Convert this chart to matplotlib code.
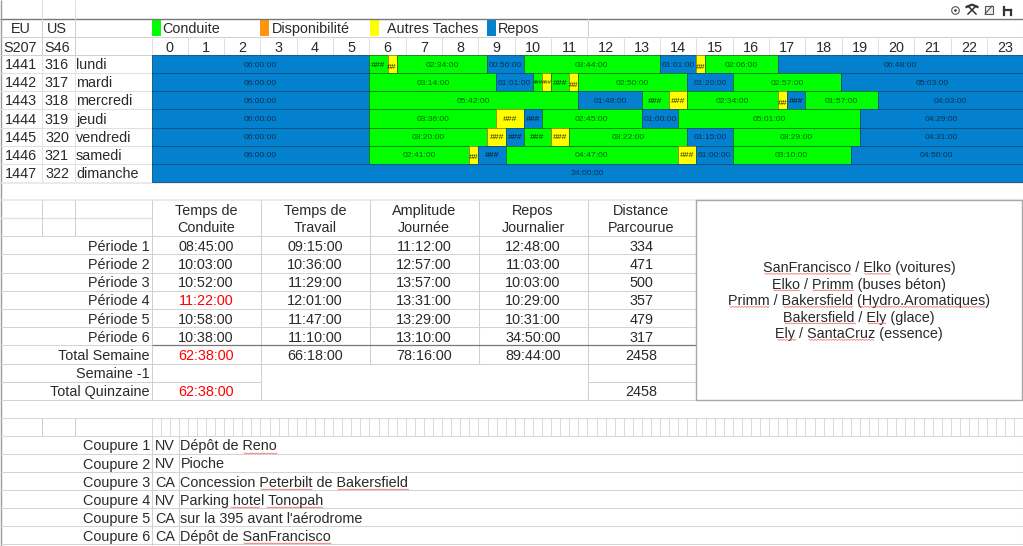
#! /usr/bin/env python

import numpy as np
import matplotlib
matplotlib.use('Agg')
import matplotlib.pyplot as plt
from matplotlib.patches import Circle, Rectangle

plt.rcParams['font.family'] = ['Liberation Sans', 'DejaVu Sans']

eu = ['1441', '1442', '1443', '1444', '1445', '1446', '1447']
us = ['316', '317', '318', '319', '320', '321', '322']
days = ['lundi', 'mardi', 'mercredi', 'jeudi', 'vendredi', 'samedi', 'dimanche']

# widths in hours as drawn (sheet snaps to quarter hours), C conduite, A autres, R repos
lundi = [(6, 'R', '06:00:00'), (.5, 'C', '###'), (.25, 'A', '##'), (2.5, 'C', '02:34:00'),
         (1, 'R', '00:56:00'), (3.75, 'C', '03:44:00'), (1, 'R', '01:01:00'), (.25, 'A', '##'),
         (2, 'C', '02:06:00'), (6.75, 'R', '06:48:00')]
mardi = [(6, 'R', '06:00:00'), (3.5, 'C', '03:14:00'), (1, 'R', '01:01:00'), (.25, 'C', '###'),
         (.25, 'A', '###'), (.5, 'C', '###'), (.25, 'A', '##'), (3, 'C', '02:50:00'),
         (1.25, 'R', '01:20:00'), (3, 'C', '02:57:00'), (5, 'R', '05:03:00')]
mercredi = [(6, 'R', '06:00:00'), (5.75, 'C', '05:42:00'), (1.75, 'R', '01:48:00'), (.75, 'C', '###'),
            (.5, 'A', '###'), (2.5, 'C', '02:34:00'), (.25, 'A', '##'), (.5, 'R', '###'),
            (2, 'C', '01:57:00'), (4, 'R', '04:03:00')]
jeudi = [(6, 'R', '06:00:00'), (3.5, 'C', '03:36:00'), (.75, 'A', '###'), (.5, 'R', '###'),
         (2.75, 'C', '02:45:00'), (1, 'R', '01:00:00'), (5, 'C', '05:01:00'), (4.5, 'R', '04:29:00')]
vendredi = [(6, 'R', '06:00:00'), (3.25, 'C', '03:20:00'), (.5, 'A', '###'), (.5, 'R', '###'),
            (.75, 'C', '###'), (.5, 'A', '###'), (3.25, 'C', '03:22:00'), (1.25, 'R', '01:15:00'),
            (3.5, 'C', '03:29:00'), (4.5, 'R', '04:31:00')]
samedi = [(6, 'R', '06:00:00'), (2.75, 'C', '02:41:00'), (.25, 'A', '##'), (.75, 'R', '###'),
          (4.75, 'C', '04:47:00'), (.5, 'A', '###'), (1, 'R', '01:00:00'), (3.25, 'C', '03:10:00'),
          (4.75, 'R', '04:50:00')]
dimanche = [(24, 'R', '24:00:00')]
week = [lundi, mardi, mercredi, jeudi, vendredi, samedi, dimanche]

periods = ['Période 1', 'Période 2', 'Période 3', 'Période 4', 'Période 5', 'Période 6']
conduite = ['08:45:00', '10:03:00', '10:52:00', '11:22:00', '10:58:00', '10:38:00']
travail = ['09:15:00', '10:36:00', '11:29:00', '12:01:00', '11:47:00', '11:10:00']
amplitude = ['11:12:00', '12:57:00', '13:57:00', '13:31:00', '13:29:00', '13:10:00']
repos = ['12:48:00', '11:03:00', '10:03:00', '10:29:00', '10:31:00', '34:50:00']
distance = ['334', '471', '500', '357', '479', '317']
totals = ['62:38:00', '66:18:00', '78:16:00', '89:44:00', '2458']

trips = ['SanFrancisco / Elko (voitures)', 'Elko / Primm (buses béton)',
         'Primm / Bakersfield (Hydro.Aromatiques)', 'Bakersfield / Ely (glace)',
         'Ely / SantaCruz (essence)']
states = ['NV', 'NV', 'CA', 'NV', 'CA', 'CA']
places = ['Dépôt de Reno', 'Pioche', 'Concession Peterbilt de Bakersfield', 'Parking hotel Tonopah',
          "sur la 395 avant l'aérodrome", 'Dépôt de SanFrancisco']

colors = {'C': '#00ff00', 'A': '#ffff00', 'R': '#0481ce'}
edges = {'C': '#0b7a0b', 'A': '#a08a00', 'R': '#064f80'}
TXT = '#2a2a2a'
GRID = '#d0d0d0'
FS = 10.35

fig = plt.figure(figsize=(10.23, 5.46), dpi=100)
bg = fig.add_axes([0, 0, 1, 1])
bg.set_xlim(0, 1023)
bg.set_ylim(546, 0)
bg.axis('off')


def hl(y, x0, x1, c=GRID, lw=.75):
    bg.plot([x0, x1], [y, y], color=c, lw=lw, solid_capstyle='butt')


def vl(x, y0, y1, c=GRID, lw=.75):
    bg.plot([x, x], [y0, y1], color=c, lw=lw, solid_capstyle='butt')


def txt(x, y, s, ha='center', c=TXT, fs=FS):
    bg.text(x, y, s, ha=ha, va='baseline', color=c, fontsize=fs)


def squiggle(x0, x1, y, z=2):
    xs = np.arange(x0, x1 + .1, 1.5)
    ys = y + .8 * (np.arange(len(xs)) % 2)
    bg.plot(xs, ys, color='#e8484a', lw=.55, alpha=.8, zorder=z)


# top grid
hl(18.5, 0, 1023, '#777777', 1.0)
for x in [41.5, 74.5]:
    vl(x, 0, 18, '#dddddd')
    vl(x, 18, 55)
vl(1, 0, 546, '#9a9a9a', 1.0)
vl(1022.5, 18, 546, '#d8d8d8')
hl(36.5, 0, 1023)
hl(54.7, 0, 151.5)
vl(41.5, 55, 182, '#e2e2e2')
vl(74.5, 55, 182, '#e2e2e2')
for i in range(1, 7):
    hl(55 + i * 18.14, 0, 151.5, '#e0e0e0')
hl(182.5, 0, 1023, '#e4e4e4', 1.1)
hl(199.5, 0, 1023, '#e4e4e4', 1.1)
vl(587.5, 18, 36)
for h in range(25):
    vl(151.5 + h * 36.33, 36.5, 55, '#e0e0e0')
hl(54.7, 151.5, 1023, '#e0e0e0')

# legend row
txt(20.5, 33, 'EU')
txt(57, 33, 'US')
txt(20.5, 51.5, 'S207')
txt(57, 51.5, 'S46')
for x0, c, x, s in [(151.5, '#00ff00', 162, 'Conduite'), (260, '#ff950e', 271.5, 'Disponibilité'),
                    (369.5, '#ffff00', 387, 'Autres Taches'), (487, '#0481ce', 498, 'Repos')]:
    bg.add_patch(Rectangle((x0, 18.8), 9.3, 17.5, color=c, lw=0))
    txt(x, 33, s, ha='left')
for h in range(24):
    txt(151.5 + (h + .5) * 36.33, 51.5, str(h))
for i in range(7):
    y = 55 + (i + 1) * 18.14 - 4
    txt(20.5, y, eu[i])
    txt(57, y, us[i])
    txt(76, y, days[i], ha='left')

# timeline
ax = fig.add_axes([151.5 / 1023, 1 - 182 / 546, 871.5 / 1023, 127 / 546])
ax.set_xlim(0, 24)
ax.set_ylim(7, 0)
ax.axis('off')
for row, segs in enumerate(week):
    start = 0
    for width, kind, label in segs:
        ax.broken_barh([(start, width)], (row, 1), facecolors=colors[kind], edgecolors=edges[kind], lw=.6)
        hashes = label.startswith('#')
        yl = row + .5
        fs = 6.1
        if label == '##' and width == .25:
            yl = row + .62
        if label == '###' and width == .25:
            fs = 4.2
        ax.text(start + width / 2, yl, label, ha='center', va='center_baseline',
                fontsize=fs, style='italic' if hashes else 'normal',
                color='black', alpha=.85 if hashes else .6, clip_on=True)
        start += width

# summary table
rows_y = [236, 254.4, 272.6, 290.8, 309, 327.2, 345.3, 363.5, 381.5, 399.5]
cols_x = [151.5, 260.5, 369.5, 478.5, 587.5, 696]
centers = [206, 315, 424, 533, 641.5]
hl(217.5, 0, 151.5, '#e2e2e2', 1.0)
vl(41.5, 200, 236)
vl(74.5, 200, 236)
for x in cols_x:
    vl(x, 200, 363.5)
for y in rows_y[:6]:
    hl(y, 0, 696, '#d4d4d4')
hl(rows_y[6], 0, 151.5, '#d4d4d4')
hl(rows_y[6], 151.5, 696, '#777777', .9)
hl(rows_y[7], 0, 696)
hl(rows_y[8], 0, 260.5)
hl(rows_y[8], 587.5, 696)
hl(rows_y[9], 0, 1023, '#d4d4d4')
vl(151.5, 363.5, 399.5)
vl(260.5, 363.5, 399.5)
vl(587.5, 363.5, 399.5)
bg.add_patch(Rectangle((696, 200), 326, 199.5, fc='white', ec='#a8a8a8', lw=1.0, zorder=3))

heads = [('Temps de', 'Conduite'), ('Temps de', 'Travail'), ('Amplitude', 'Journée'),
         ('Repos', 'Journalier'), ('Distance', 'Parcourue')]
for cx, (a, b) in zip(centers, heads):
    txt(cx, 215.3, a)
    txt(cx, 232, b)
for i, name in enumerate(periods):
    y = rows_y[i + 1] - 3.6
    txt(150, y, name, ha='right')
    txt(centers[0], y, conduite[i], c='#ff0000' if i == 3 else TXT)
    txt(centers[1], y, travail[i])
    txt(centers[2], y, amplitude[i])
    txt(centers[3], y, repos[i])
    txt(centers[4], y, distance[i])
txt(150, 359.8, 'Total Semaine', ha='right')
txt(centers[0], 359.8, totals[0], c='#ff0000')
for cx, v in zip(centers[1:], totals[1:]):
    txt(cx, 359.8, v)
txt(150, 377.8, 'Semaine -1', ha='right')
txt(150, 395.8, 'Total Quinzaine', ha='right')
txt(centers[0], 395.8, totals[0], c='#ff0000')
txt(centers[4], 395.8, totals[4])

for i, s in enumerate(trips):
    bg.text(859, 272 + i * 16.6, s, ha='center', va='baseline', color=TXT, fontsize=FS, zorder=4)
for x0, x1, y in [(765, 851, 273.5), (865, 891, 273.5), (774, 800, 290), (813, 854, 290),
                  (730, 770, 306.5), (784, 854, 306.5), (859, 985, 306.5), (785, 856, 323),
                  (868, 887, 323), (778, 797, 339.5), (809, 874, 339.5)]:
    squiggle(x0, x1, y, z=4)

# coupures
hl(417.5, 0, 1023, '#d8d8d8')
hl(435.5, 0, 1023, '#d8d8d8')
vl(41.5, 417.5, 435.5)
vl(74.5, 417.5, 435.5)
for x in np.arange(151.5, 1023, 36.33 / 4):
    vl(x, 417.5, 435.5, '#d9d9d9', .7)
for i in range(6):
    y = 435.5 + (i + 1) * 18.1
    hl(y, 0, 1023, '#d4d4d4')
    txt(150, y - 3.2, f'Coupure {i + 1}', ha='right')
    txt(155, y - 3.2, states[i], ha='left')
    txt(180.5, y - 3.2, places[i], ha='left')
vl(151.5, 435.5, 545)
vl(178.5, 435.5, 545)
for x0, x1, y in [(244, 278, 453), (261, 313, 489), (338, 409, 489), (231, 260, 507),
                  (267, 323, 507), (244, 331, 543)]:
    squiggle(x0, x1, y)

# toolbar icons
bg.add_patch(Circle((955.5, 10.5), 3.8, fc='none', ec='#555555', lw=.8))
bg.add_patch(Circle((955.5, 10.5), 1.3, fc='#333333', ec='none'))
bg.plot([968, 976], [14, 6], color='#333333', lw=1.1)
bg.plot([976, 968], [14, 6], color='#333333', lw=1.1)
bg.plot([966.5, 971], [7, 5], color='#333333', lw=1.6)
bg.plot([973, 977.5], [5, 7], color='#333333', lw=1.6)
bg.add_patch(Rectangle((984.5, 6), 8, 8, fc='#eeeeee', ec='#555555', lw=.8))
bg.plot([985, 992], [14, 6], color='#555555', lw=.8)
bg.plot([1004, 1004], [7, 15], color='#333333', lw=1.6)
bg.plot([1011, 1011], [10, 15], color='#333333', lw=1.6)
bg.plot([1004, 1011], [10, 10], color='#333333', lw=1.6)

fig.savefig('out.png', dpi=100)
